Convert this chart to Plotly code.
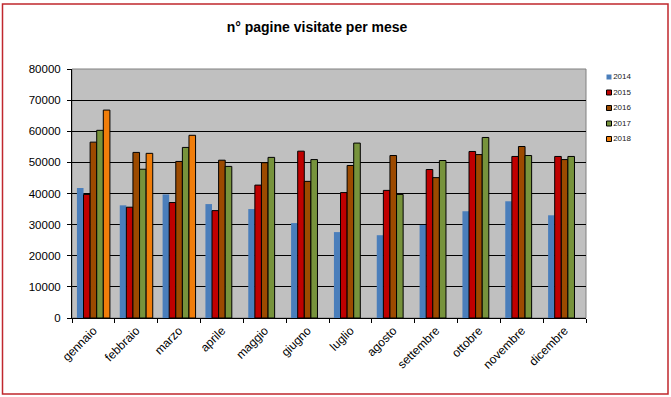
import plotly.graph_objects as go

months = ["gennaio", "febbraio", "marzo", "aprile", "maggio", "giugno",
          "luglio", "agosto", "settembre", "ottobre", "novembre", "dicembre"]
years = ["2014", "2015", "2016", "2017", "2018"]

v2014 = [41800, 36200, 39700, 36600, 35000, 30500, 27600, 26600, 29900, 34300, 37500, 33000]
v2015 = [39700, 35600, 37100, 34500, 42700, 53600, 40300, 41000, 47700, 53500, 51900, 51900]
v2016 = [56500, 53200, 50300, 50700, 49900, 43900, 49000, 52200, 45100, 52500, 55100, 50900]
v2017 = [60300, 47800, 54800, 48700, 51600, 50900, 56200, 39700, 50600, 58000, 52200, 51900]
v2018 = [66800, 52900, 58700, None, None, None, None, None, None, None, None, None]

series = [v2014, v2015, v2016, v2017, v2018]
colors = ["#4A7EBB", "#C00000", "#9C4A00", "#77933C", "#F07D0A"]
y_ticks = [0, 10000, 20000, 30000, 40000, 50000, 60000, 70000, 80000]

W, H = 671, 397
L, R, T, B = 72, 20, 69, 79
pw, ph = W - L - R, H - T - B
PLOT_RIGHT = 586

def px_x(p):
    return (p - L) / pw

def px_y(p):
    return 1 - (p - T) / ph

fig = go.Figure()
for i, (name, vals, col) in enumerate(zip(years, series, colors)):
    fig.add_trace(go.Bar(
        x=months, y=vals, name=name, showlegend=False,
        marker=dict(color=col,
                    line=dict(color="black", width=0 if i == 0 else 1)),
    ))

# legend drawn as a small scatter on its own axes
fig.add_trace(go.Scatter(
    x=[0] * len(years), y=list(range(len(years))), text=years,
    mode="markers+text", textposition="middle right",
    textfont=dict(size=8, color="#202020"),
    marker=dict(symbol="square", size=5, color=colors,
                line=dict(color="black", width=[0, 1, 1, 1, 1])),
    xaxis="x2", yaxis="y2", showlegend=False, cliponaxis=False,
    hoverinfo="skip",
))

fig.add_shape(type="rect", xref="paper", yref="paper",
              x0=px_x(2.5), x1=px_x(668), y0=px_y(394), y1=px_y(4),
              line=dict(color="#C0272D", width=1.5), fillcolor="rgba(0,0,0,0)",
              layer="below")
fig.add_shape(type="rect", xref="paper", yref="paper",
              x0=0, x1=px_x(PLOT_RIGHT), y0=0, y1=1,
              line=dict(color="#808080", width=1), fillcolor="#C0C0C0",
              layer="below")

fig.update_layout(
    width=W, height=H,
    margin=dict(l=L, r=R, t=T, b=B, autoexpand=False),
    paper_bgcolor="white",
    plot_bgcolor="rgba(0,0,0,0)",
    barmode="group",
    bargap=0.23,
    bargroupgap=0,
    showlegend=False,
    font=dict(family="Liberation Sans, Arial, sans-serif", color="black", size=11),
    title=dict(text="<b>n° pagine visitate per mese</b>", x=317 / W, xanchor="center",
               xref="container",
               y=1 - 27 / H, yanchor="middle",
               font=dict(size=14, family="Liberation Sans, Arial, sans-serif")),
    xaxis=dict(type="category", tickson="boundaries", ticks="outside",
               domain=[0, px_x(PLOT_RIGHT)],
               ticklen=4, tickcolor="black", showline=True, linecolor="black",
               linewidth=1, tickangle=-45, tickfont=dict(size=12),
               showgrid=False),
    yaxis=dict(range=[0, 80000], tickvals=y_ticks, ticks="outside", ticklen=4,
               tickcolor="black", showline=True, linecolor="black", linewidth=1,
               gridcolor="black", gridwidth=1, tickfont=dict(size=11.5),
               zeroline=False, tickformat="d", ticklabelstandoff=4),
    xaxis2=dict(domain=[px_x(609), px_x(650)], range=[0, 1], visible=False,
                anchor="y2", fixedrange=True),
    yaxis2=dict(domain=[px_y(146.75), px_y(69.25)], range=[4.5, -0.5],
                visible=False, anchor="x2", fixedrange=True),
)

fig.write_html("out.html", config={"displayModeBar": False},
               post_script="document.body.style.margin='0';document.body.style.overflow='hidden';")
